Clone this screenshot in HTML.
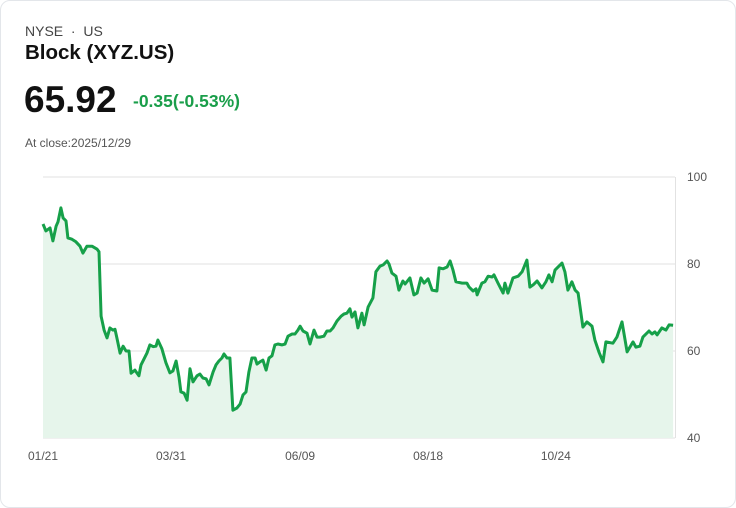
<!DOCTYPE html>
<html><head><meta charset="utf-8"><style>
body{margin:0;background:#fff;font-family:"Liberation Sans",sans-serif;}
.card{position:absolute;left:0;top:0;width:734px;height:506px;border:1px solid #e3e6ea;border-radius:10px;}
.t{position:absolute;white-space:nowrap;}
</style></head><body>
<div class="card"></div>
<div class="t" style="left:25px;top:23px;font-size:14px;color:#444">NYSE &nbsp;·&nbsp; US</div>
<div class="t" style="left:25px;top:41px;font-size:20.5px;font-weight:bold;color:#111">Block (XYZ.US)</div>
<div class="t" style="left:24px;top:79px;font-size:37px;font-weight:bold;color:#111">65.92</div>
<div class="t" style="left:133px;top:91px;font-size:17.5px;font-weight:bold;color:#1a9e4a">-0.35(-0.53%)</div>
<div class="t" style="left:25px;top:136px;font-size:12px;color:#555">At close:2025/12/29</div>
<svg id="chart" width="736" height="508" style="position:absolute;left:0;top:0"></svg>
<script>
const days=[0,1.1,2.6,3.7,4.9,5.6,6.7,7.5,8.6,9.3,10.8,12.3,13.8,14.9,16.4,18.3,20.2,20.9,21.7,22.8,23.9,25.0,26.1,26.9,27.6,28.8,29.9,31.0,32.1,32.9,34.3,35.8,36.6,38.8,39.9,41.1,42.2,42.9,44.4,45.9,47.4,48.5,49.7,50.8,51.5,52.7,53.8,54.9,56.0,57.5,58.6,59.7,60.9,62.0,63.5,64.6,65.7,66.8,67.6,68.7,69.8,70.9,72.4,73.6,74.7,75.8,76.9,78.0,79.2,79.9,81.0,82.1,83.3,84.4,85.5,86.6,87.7,89.2,90.4,91.5,93.0,94.1,95.2,96.0,97.1,98.6,99.7,101.2,102.3,103.4,104.9,106.0,107.2,108.3,109.8,111.3,112.4,113.5,114.6,115.4,116.5,117.6,119.1,119.9,121.4,123.2,124.3,125.8,127.0,128.5,129.2,130.3,131.8,132.9,134.4,135.2,137.0,138.5,139.7,141.1,142.3,143.8,145.3,147.1,147.9,149.4,150.9,152.0,153.1,154.2,156.5,158.3,159.1,160.6,161.7,162.1,163.9,165.0,166.2,167.7,168.4,169.9,171.8,172.5,173.6,175.5,177.4,178.9,180.7,181.8,183.0,184.5,186.3,187.8,188.9,190.1,191.2,193.8,194.9,196.0,197.5,198.7,199.8,201.6,203.1,205.0,206.1,207.6,209.1,210.2,212.8,214.3,216.2,218.1,220.3,221.4,222.9,224.0,226.3,227.4,228.5,229.3,231.1,232.6,233.8,235.3];
const values=[89.2,87.6,88.3,85.3,88.7,89.7,92.9,90.6,89.9,86,85.7,85.1,84.1,82.5,84.1,84.1,83.4,82.8,68,64.8,63,65.3,64.8,65,63,59.5,61.1,60,60,54.9,55.6,54.3,56.8,59.5,61.4,61,61.1,62.5,60.5,57.3,55,55.4,57.7,54,50.6,50.3,48.7,55.9,52.9,54.3,54.7,53.8,53.6,52.2,55.2,56.8,57.7,58.4,59.3,58.4,58.4,46.4,46.9,47.8,49.9,50.6,55.2,58.4,58.4,57,57.5,57.9,55.6,58.4,58.9,61.4,61.6,61.4,61.6,63.4,63.9,63.9,64.8,65.7,64.6,64.1,61.6,64.8,63.2,63.2,63.4,64.6,64.6,65.3,66.9,68,68.5,68.7,69.7,67.8,69.0,65.3,68.7,66.0,70.1,72.2,78.2,79.5,79.8,80.7,80.0,77.9,77.2,74.0,76.1,75.4,76.8,72.9,73.3,76.8,75.6,76.6,74.0,73.8,79.1,78.9,79.3,80.7,78.6,75.9,75.6,75.6,74.7,73.8,74.3,72.9,75.6,75.9,77.2,77.0,77.5,75.6,73.3,75.6,73.3,76.8,77.2,78.2,80.9,74.7,75.2,76.1,74.5,75.9,77.5,75.9,78.6,80.2,78.2,74.0,75.9,74.0,73.3,65.5,66.7,65.7,62.5,59.8,57.5,62.1,61.8,63.2,66.7,59.8,62.1,60.9,61.1,63.2,64.6,63.9,64.4,63.7,65.3,64.8,66.0,65.9];
const yTicks=[40,60,80,100];
const xLabels=["01/21","03/31","06/09","08/18","10/24"];
const xLabelDays=[0,47.8,96,143.8,191.5];
const svg=document.getElementById('chart');const NS='http://www.w3.org/2000/svg';
const X0=43,X1=675,Y0=438,Y1=177,DMAX=236;
const xs=d=>X0+(X1-X0)*d/DMAX;
const ys=v=>Y0-(v-40)/60*(Y0-Y1);
function mk(t,a){const e=document.createElementNS(NS,t);for(const k in a)e.setAttribute(k,a[k]);svg.appendChild(e);return e;}
yTicks.forEach(v=>{const l=mk('line',{x1:X0,x2:X1,y1:ys(v),y2:ys(v),stroke:'#e2e2e2','stroke-width':1});


const t=mk('text',{x:687,y:ys(v)+4,'font-size':12,fill:'#555','font-family':'Liberation Sans, sans-serif'});t.textContent=v;

});
const ax=mk('line',{x1:X1+0.5,x2:X1+0.5,y1:Y1,y2:Y0,stroke:'#e2e2e2'});


xLabels.forEach((s,k)=>{const t=mk('text',{x:xs(xLabelDays[k]),y:460,'font-size':12,fill:'#555','text-anchor':'middle','font-family':'Liberation Sans, sans-serif'});t.textContent=s;

});
const n=Math.min(days.length,values.length);
let d='';for(let i=0;i<n;i++)d+=(i?'L':'M')+xs(days[i]).toFixed(1)+','+ys(values[i]).toFixed(1);
const lastX=xs(days[n-1]);
const area=mk('path',{d:d+`L${lastX},${Y0}L${X0},${Y0}Z`,fill:'#e6f5eb'});


const line=mk('path',{d:d,fill:'none',stroke:'#16a049','stroke-width':3,'stroke-linejoin':'round'});


</script>
</body></html>
